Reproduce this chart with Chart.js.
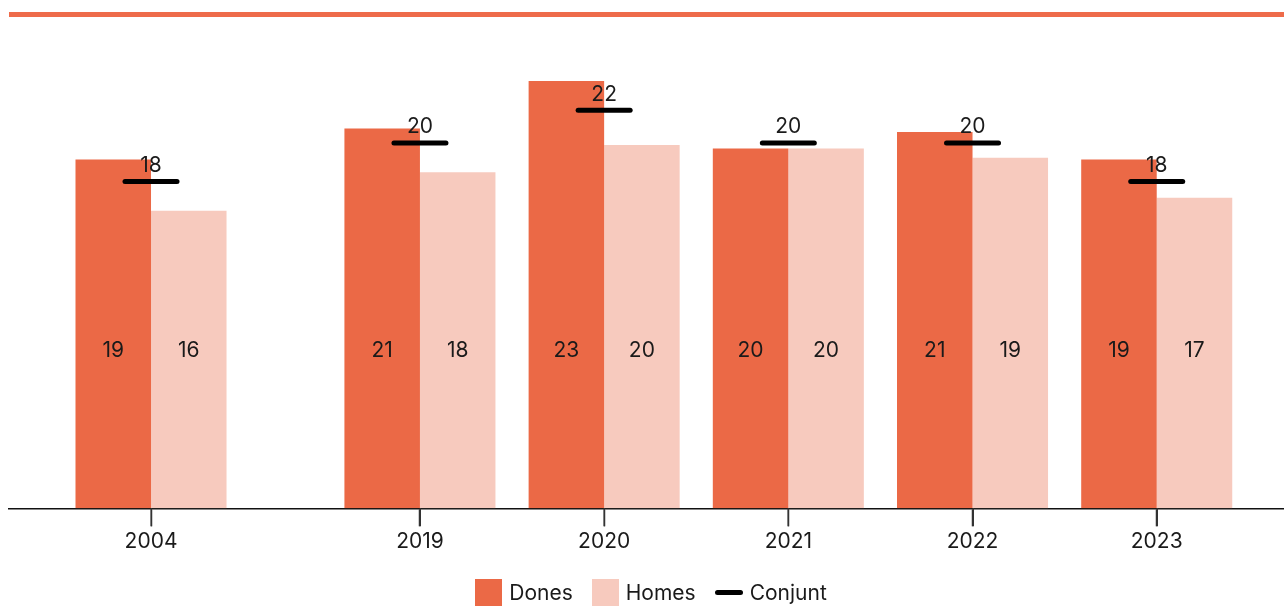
<!DOCTYPE html>
<html lang="ca">
<head>
<meta charset="utf-8">
<title>Dones, homes i conjunt</title>
<script src="https://cdn.jsdelivr.net/npm/chart.js@4.4.1/dist/chart.umd.min.js"></script>
<style>
  html, body { margin: 0; padding: 0; background: #fff; }
  body { width: 1284px; height: 606px; overflow: hidden; position: relative; font-family: Inter, "Noto Sans", sans-serif; color: #1a1a1a; }
  .rule { position: absolute; left: 9px; right: 0; top: 12px; height: 5px; background: #ee6b4a; }
  .wrap { position: absolute; left: 0; top: 0; width: 1284px; height: 606px; }
  .legend { position: absolute; left: 0; width: 1284px; top: 579px; display: flex; justify-content: center; gap: 19px; font-size: 21px; padding-left: 18px; box-sizing: border-box; }
  .legend span { display: inline-flex; align-items: center; height: 27px; }
  .legend i { display: inline-block; width: 27px; height: 27px; margin-right: 7px; }
  .legend i.line { width: 28px; height: 5px; border-radius: 3px; background: #000; }
</style>
</head>
<body>
<div class="rule"></div>
<div class="wrap"><canvas id="chart"></canvas></div>
<div class="legend" id="legend"></div>

<script>
// Data (percentages)
const years   = ['2004', '2019', '2020', '2021', '2022', '2023'];
const dones   = [19.1, 20.8, 23.4, 19.7, 20.6, 19.1];
const homes   = [16.3, 18.4, 19.9, 19.7, 19.2, 17.0];
const conjunt = [17.9, 20.0, 21.8, 20.0, 20.0, 17.9];

const DONES_COLOR = '#eb6946';
const HOMES_COLOR = '#f7cabe';
const TEXT_COLOR = '#1a1a1a';
const FONT = 'Inter, "Noto Sans", sans-serif';
const FONT_SIZE = 21;

// 2004 sits apart from the recent run of years
const GAP = 0.46;
const xPos = years.map((y, i) => i === 0 ? 0 : i + GAP);
const toPoints = arr => arr.map((v, i) => ({ x: xPos[i], y: v }));

// Value labels: bar values at a fixed height, conjunt above its marker
const valueLabels = {
    id: 'valueLabels',
    afterDatasetsDraw(chart) {
        const ctx = chart.ctx;
        const area = chart.chartArea;
        ctx.save();
        ctx.fillStyle = TEXT_COLOR;
        ctx.font = FONT_SIZE + 'px ' + FONT;
        ctx.textAlign = 'center';
        ctx.textBaseline = 'middle';
        chart.data.datasets.forEach((ds, di) => {
            const meta = chart.getDatasetMeta(di);
            meta.data.forEach((el, i) => {
                const txt = String(Math.round(ds.data[i].y));
                if (meta.type === 'bar') {
                    ctx.fillText(txt, el.x, area.bottom - 158);
                } else {
                    ctx.fillText(txt, el.x, el.y - 16);
                }
            });
        });
        ctx.restore();
    }
};

// Tick marks under the axis at each year
const yearTicks = {
    id: 'yearTicks',
    afterDraw(chart) {
        const ctx = chart.ctx;
        const scale = chart.scales.x;
        const bottom = chart.chartArea.bottom;
        ctx.save();
        ctx.strokeStyle = '#333';
        ctx.lineWidth = 1.5;
        xPos.forEach(v => {
            const px = Math.round(scale.getPixelForValue(v)) + 0.25;
            ctx.beginPath();
            ctx.moveTo(px, bottom);
            ctx.lineTo(px, bottom + 18);
            ctx.stroke();
        });
        ctx.restore();
    }
};

// Rounded ends for the conjunt markers
const roundCaps = {
    id: 'roundCaps',
    beforeDatasetDraw(chart, args) {
        if (args.meta.type === 'line') chart.ctx.lineCap = 'round';
    },
    afterDatasetDraw(chart, args) {
        if (args.meta.type === 'line') chart.ctx.lineCap = 'butt';
    }
};

const canvas = document.getElementById('chart');
canvas.width = 1284;
canvas.height = 606;

new Chart(canvas, {
    data: {
        datasets: [
            {
                type: 'line',
                label: 'Conjunt',
                data: toPoints(conjunt),
                showLine: false,
                pointStyle: 'line',
                pointRadius: 26,
                pointHoverRadius: 26,
                pointBorderWidth: 5,
                borderColor: '#000',
                backgroundColor: '#000',
                order: 0
            },
            {
                type: 'bar',
                label: 'Dones',
                data: toPoints(dones),
                backgroundColor: DONES_COLOR,
                categoryPercentage: 0.82,
                barPercentage: 1,
                order: 1
            },
            {
                type: 'bar',
                label: 'Homes',
                data: toPoints(homes),
                backgroundColor: HOMES_COLOR,
                categoryPercentage: 0.82,
                barPercentage: 1,
                order: 1
            }
        ]
    },
    options: {
        responsive: false,
        animation: false,
        layout: { autoPadding: false, padding: { top: 33.5, bottom: 48.5, left: 9, right: 0 } },
        scales: {
            x: {
                type: 'linear',
                offset: false,
                min: -0.771,
                max: 6.151,
                afterBuildTicks: scale => { scale.ticks = xPos.map(v => ({ value: v })); },
                ticks: {
                    autoSkip: false,
                    maxRotation: 0,
                    padding: 3,
                    color: TEXT_COLOR,
                    font: { family: FONT, size: FONT_SIZE },
                    callback: (value, index) => years[index]
                },
                grid: {
                    display: true,
                    offset: false,
                    drawOnChartArea: false,
                    drawTicks: true,
                    tickLength: 18,
                    tickWidth: 1.5,
                    tickColor: '#333',
                    color: '#333'
                },
                border: { display: true, color: '#111', width: 1.5 }
            },
            y: {
                display: false,
                min: 0,
                max: 26
            }
        },
        plugins: {
            legend: { display: false },
            tooltip: { enabled: false }
        }
    },
    plugins: [roundCaps, valueLabels, yearTicks]
});

// Legend built as plain text below the chart
const legendItems = [
    { label: 'Dones', cls: '', color: DONES_COLOR },
    { label: 'Homes', cls: '', color: HOMES_COLOR },
    { label: 'Conjunt', cls: 'line', color: '#000' }
];
const legend = document.getElementById('legend');
legendItems.forEach(item => {
    const span = document.createElement('span');
    const icon = document.createElement('i');
    if (item.cls) icon.className = item.cls;
    icon.style.background = item.color;
    span.appendChild(icon);
    span.appendChild(document.createTextNode(item.label));
    legend.appendChild(span);
});
</script>
</body>
</html>
